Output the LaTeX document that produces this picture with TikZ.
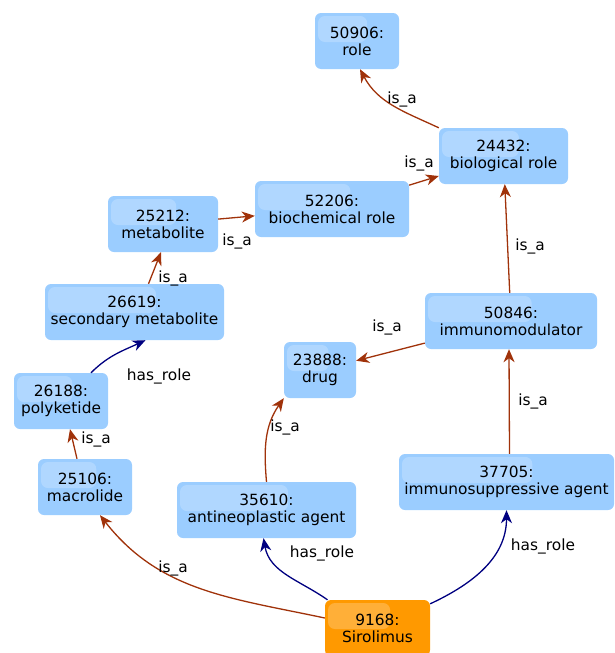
\documentclass[tikz,border=0pt]{standalone}
\usepackage{fontspec}
\setmainfont{DejaVu Sans}
\usetikzlibrary{arrows.meta,calc}
\definecolor{termblue}{RGB}{155,205,255}
\definecolor{termorange}{RGB}{255,153,0}
\definecolor{isared}{RGB}{160,50,10}
\definecolor{rolenavy}{RGB}{0,0,128}

\begin{document}
\begin{tikzpicture}[
    x=1pt,y=1pt,
    font={\fontsize{15.4}{17}\selectfont},
    term/.style={
        fill=termblue,rounded corners=6pt,align=center,
        minimum height=56pt,inner sep=3pt,
        % Glossy patch in the upper left of every box
        path picture={
            \coordinate (gloss-a) at ([shift={(3pt,-3pt)}]path picture bounding box.north west);
            \coordinate (gloss-b) at ($(path picture bounding box.north west)!.62!(path picture bounding box.north east)$);
            \fill[white,opacity=.22,rounded corners=7pt]
                (gloss-a) rectangle ([yshift=-29pt]gloss-b);
        }},
    query/.style={term,fill=termorange},
    lbl/.style={inner sep=1pt},
    isa/.style={draw=isared,line width=1.3pt,
        -{Stealth[length=13pt,width=11pt,inset=4pt]}},
    hasrole/.style={isa,draw=rolenavy},
    ]
    \useasboundingbox (0,0) rectangle (614,-653);
    % Terms
    \node[term,minimum width=84pt]  (role)    at (357,-41)    {50906:\\role};
    \node[term,minimum width=129pt] (bio)     at (503.5,-156) {24432:\\biological role};
    \node[term,minimum width=154pt] (biochem) at (332,-209)   {52206:\\biochemical role};
    \node[term,minimum width=110pt] (met)     at (163,-224)   {25212:\\metabolite};
    \node[term,minimum width=179pt] (sec)     at (134.5,-312) {26619:\\secondary metabolite};
    \node[term,minimum width=94pt]  (poly)    at (61,-401)    {26188:\\polyketide};
    \node[term,minimum width=94pt]  (mac)     at (85,-487)    {25106:\\macrolide};
    \node[term,minimum width=72pt]  (drug)    at (320,-370)   {23888:\\drug};
    \node[term,minimum width=172pt] (imm)     at (511,-321)   {50846:\\immunomodulator};
    \node[term,minimum width=215pt] (imsup)   at (506.5,-482) {37705:\\immunosuppressive agent};
    \node[term,minimum width=179pt] (ant)     at (266.5,-510) {35610:\\antineoplastic agent};
    % Query term
    \node[query,minimum width=105pt] (sir)    at (377.5,-628) {9168:\\Sirolimus};

    % is_a relations
    \draw[isa] (bio.north west) to[out=155,in=-62] ([xshift=3pt]role.south);
    \draw[isa] (biochem) -- (bio);
    \draw[isa] (met) -- (biochem);
    \draw[isa] ([xshift=14pt]sec.north) -- ([xshift=-2pt]met.south);
    \draw[isa] ([xshift=-8pt]mac.north) -- ([xshift=9pt]poly.south);
    \draw[isa] ([yshift=10pt]sir.west) to[out=168,in=-52] ([xshift=15pt]mac.south);
    \draw[isa] (ant.north) to[out=95,in=235] (drug.south west);
    \draw[isa] ([xshift=3pt]imsup.north) -- ([xshift=-2pt]imm.south);
    \draw[isa] (imm) -- (drug);
    \draw[isa] (imm) -- (bio);
    % has_role relations
    \draw[hasrole] ([xshift=30pt]poly.north) to[out=45,in=205] ([xshift=11pt]sec.south);
    \draw[hasrole] ([xshift=-50pt]sir.north) to[out=145,in=-80] ([xshift=-3pt]ant.south);
    \draw[hasrole] ([yshift=-4pt]sir.north east) to[out=25,in=-90] (imsup.south);

    % Edge labels
    \node[lbl] (l-role)    at (402,-99)  {is\_a};
    \node[lbl] (l-bio)     at (419,-163) {is\_a};
    \node[lbl] (l-biochem) at (237,-241) {is\_a};
    \node[lbl] (l-met)     at (173,-278) {is\_a};
    \node[lbl] (l-sec)     at (159,-376) {has\_role};
    \node[lbl] (l-poly)    at (96,-439)  {is\_a};
    \node[lbl] (l-mac)     at (173,-568) {is\_a};
    \node[lbl] (l-drug)    at (387,-327) {is\_a};
    \node[lbl] (l-ant)     at (285,-427) {is\_a};
    \node[lbl] (l-imm)     at (533,-401) {is\_a};
    \node[lbl] (l-up)      at (530,-246) {is\_a};
    \node[lbl] (l-antrole) at (322,-553) {has\_role};
    \node[lbl] (l-suprole) at (543,-546) {has\_role};
\end{tikzpicture}
\end{document}
